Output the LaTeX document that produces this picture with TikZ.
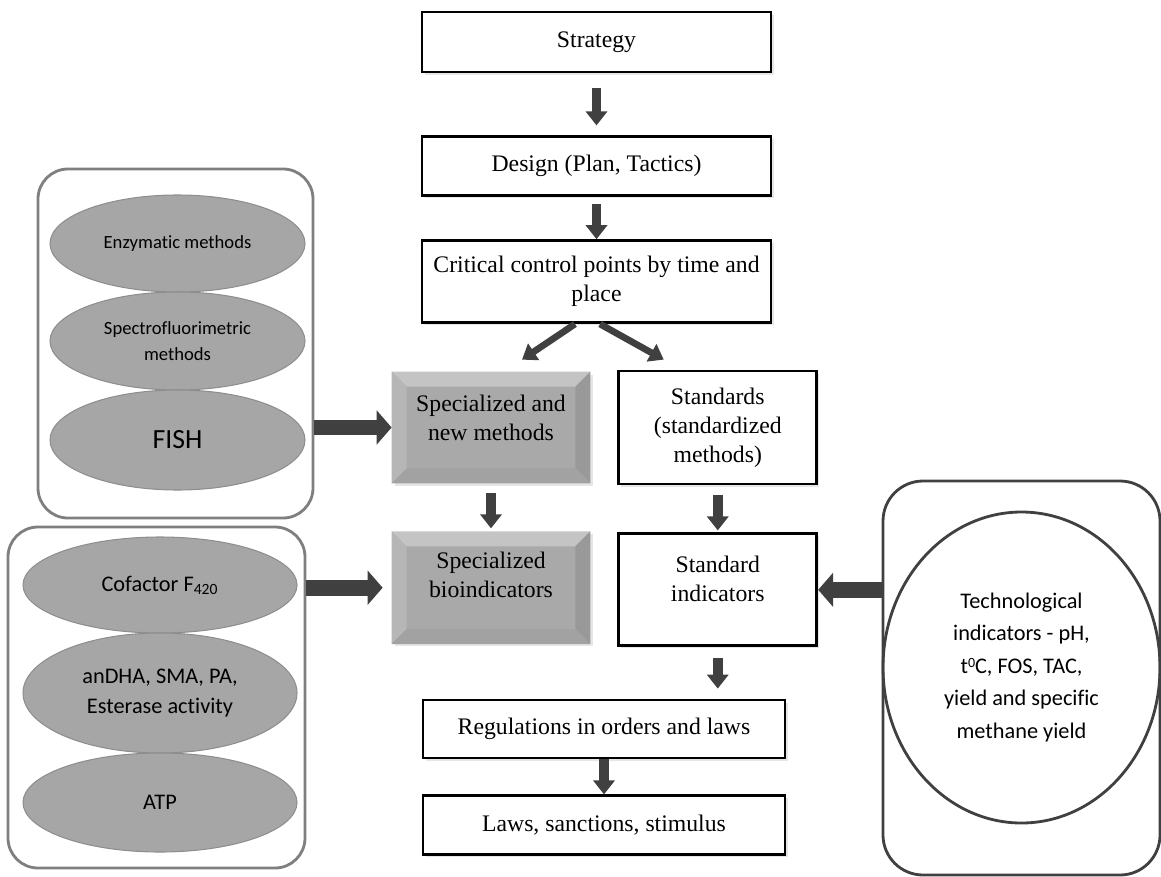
\documentclass[tikz,border=0pt]{standalone}
\usepackage{fontspec}
\setmainfont{Liberation Serif}
\newfontfamily\calib[Ligatures=NoCommon]{Carlito}
\usepackage{tikz}
\usepackage{xcolor}
\usetikzlibrary{positioning, arrows.meta, shapes.geometric, shadows}

\definecolor{arrowgray}{HTML}{404040}
\definecolor{ellgray}{HTML}{A6A6A6}
\definecolor{ellline}{HTML}{8E8E8E}
\definecolor{framegray}{HTML}{7F7F7F}
\definecolor{bevfill}{HTML}{A9A9A9}
\definecolor{bevlight}{HTML}{C4C4C4}
\definecolor{bevside}{HTML}{B6B6B6}
\definecolor{bevdark}{HTML}{999999}
\definecolor{bevlow}{HTML}{A2A2A2}

\newcommand{\boxfont}{\fontsize{13.5}{16.5}\selectfont}
\newcommand{\grpfont}{\calib\fontsize{12.7}{17}\selectfont}
\newcommand{\bevelfaces}[1]{%
  \fill[bevlight] (#1.north west) -- (#1.north east) -- ([shift={(-0.3,-0.3)}]#1.north east) -- ([shift={(0.3,-0.3)}]#1.north west) -- cycle;
  \fill[bevside] (#1.north west) -- ([shift={(0.3,-0.3)}]#1.north west) -- ([shift={(0.3,0.3)}]#1.south west) -- (#1.south west) -- cycle;
  \fill[bevdark] (#1.north east) -- ([shift={(-0.3,-0.3)}]#1.north east) -- ([shift={(-0.3,0.3)}]#1.south east) -- (#1.south east) -- cycle;
  \fill[bevlow] (#1.south west) -- ([shift={(0.3,0.3)}]#1.south west) -- ([shift={(-0.3,0.3)}]#1.south east) -- (#1.south east) -- cycle;
}

\tikzset{
  stepbox/.style={draw=black, line width=1.6pt, fill=white, align=center, font=\boxfont,
    drop shadow={opacity=0.2, shadow xshift=1.5pt, shadow yshift=-1.5pt}},
  bevelbox/.style={fill=bevfill, align=center, font=\boxfont, minimum width=3.96cm,
    drop shadow={opacity=0.2, shadow xshift=1.5pt, shadow yshift=-1.5pt}},
  grpframe/.style={draw=framegray, line width=1.6pt, rounded corners=0.6cm},
  method/.style={ellipse, fill=ellgray, draw=ellline, line width=0.6pt, align=center, inner sep=0pt, font=\grpfont},
  downarr/.style={draw=arrowgray, line width=5.5pt, -{Triangle[width=12pt,length=8pt]}},
  sidearr/.style={draw=arrowgray, line width=9pt, -{Triangle[width=19pt,length=8.5pt]}},
  slantarr/.style={draw=arrowgray, line width=3.8pt, -{Triangle[width=11pt,length=8pt]}},
}

\begin{document}
\begin{tikzpicture}
                \useasboundingbox (0,0) rectangle (23.22,-17.52);

                \node [stepbox, minimum width=6.98cm, minimum height=1.2cm] (strat) at (11.93,-0.84) {Strategy};
                \node [stepbox, minimum width=6.98cm, minimum height=1.18cm, below=1.24cm of strat] (design) {Design (Plan, Tactics)};
                \node [stepbox, minimum width=6.98cm, minimum height=1.64cm, below=0.84cm of design] (ccp) {Critical control points by time and\\place};

                \node [bevelbox, minimum height=2.22cm] (spmeth) at (9.82,-8.55) {};
                \bevelfaces{spmeth}
                \node [align=center, font=\boxfont] at ([yshift=0.2cm]spmeth.center) {Specialized and\\new methods};
                \node [bevelbox, minimum height=2.24cm, below=0.96cm of spmeth] (spbio) {};
                \bevelfaces{spbio}
                \node [align=center, font=\boxfont] at ([yshift=0.25cm]spbio.center) {Specialized\\bioindicators};

                \node [stepbox, minimum width=3.96cm, minimum height=2.26cm, right=0.54cm of spmeth] (stdm) {Standards\\(standardized\\methods)};
                \node [stepbox, minimum width=3.96cm, minimum height=2.24cm, below=0.94cm of stdm, text depth=0.45cm] (stdi) {Standard\\indicators};

                \node [stepbox, minimum width=7.24cm, minimum height=1.16cm] (regs) at (12.08,-14.58) {Regulations in orders and laws};
                \node [stepbox, minimum width=7.24cm, minimum height=1.18cm, below=0.7cm of regs] (laws) {Laws, sanctions, stimulus};

                \node [grpframe, minimum width=5.5cm, minimum height=6.98cm] (grpA) at (3.51,-6.87) {};
                \node [method, minimum width=5.1cm, minimum height=1.94cm, font=\calib\fontsize{10.6}{14}\selectfont] (enz) at (3.55,-4.87) {Enzymatic methods};
                \node [method, minimum width=5.1cm, minimum height=1.96cm, font=\calib\fontsize{10.6}{14.5}\selectfont] (spec) at (3.55,-6.82) {Spectrofluorimetric\\methods};
                \node [method, minimum width=5.1cm, minimum height=2.0cm, font=\calib\fontsize{15.8}{18}\selectfont] (fish) at (3.55,-8.8) {FISH};

                \node [grpframe, minimum width=5.94cm, minimum height=6.82cm] (grpB) at (3.13,-13.95) {};
                \node [method, minimum width=5.48cm, minimum height=1.92cm] (cof) at (3.2,-11.7) {Cofactor F\textsubscript{420}};
                \node [method, minimum width=5.48cm, minimum height=2.4cm] (andha) at (3.2,-13.86) {anDHA, SMA, PA,\\Esterase activity};
                \node [method, minimum width=5.48cm, minimum height=1.98cm] (atp) at (3.2,-16.05) {ATP};

                \node [grpframe, draw=arrowgray, rounded corners=0.8cm, minimum width=5.54cm, minimum height=7.88cm] (grpC) at (20.43,-13.56) {};
                \node [ellipse, draw=arrowgray, line width=1.6pt, align=center, inner sep=0pt, minimum width=5.54cm, minimum height=6.22cm,
                       font=\calib\fontsize{12.7}{18.5}\selectfont] (tech) at (20.43,-13.35)
                      {Technological\\indicators - pH,\\t\raisebox{0.6ex}{\fontsize{8}{8}\selectfont 0}C, FOS, TAC,\\yield and specific\\methane yield};

                \draw[downarr, shorten <=0.3cm, shorten >=0.2cm] (strat) -- (design);
                \draw[downarr, shorten <=0.14cm] (design) -- (ccp);
                \draw[slantarr] ([xshift=-0.43cm]ccp.south) -- ([xshift=0.62cm,yshift=0.24cm]spmeth.north);
                \draw[slantarr] ([xshift=0.07cm]ccp.south) -- ([xshift=-1.08cm,yshift=0.2cm]stdm.north);
                \draw[downarr, shorten <=0.2cm, shorten >=0.06cm] (spmeth) -- (spbio);
                \draw[downarr, shorten <=0.2cm, shorten >=0.04cm] (stdm) -- (stdi);
                \draw[downarr, shorten <=0.22cm, shorten >=0.2cm] (stdi.south) -- (stdi.south |- regs.north);
                \draw[downarr] (regs) -- (laws);

                \draw[sidearr] (grpA.east |- spmeth.west) -- (spmeth.west);
                \draw[sidearr, shorten >=0.18cm] (grpB.east |- spbio.west) -- (spbio.west);
                \draw[sidearr] (grpC.west |- stdi.east) -- (stdi.east);
            \end{tikzpicture}
\end{document}
